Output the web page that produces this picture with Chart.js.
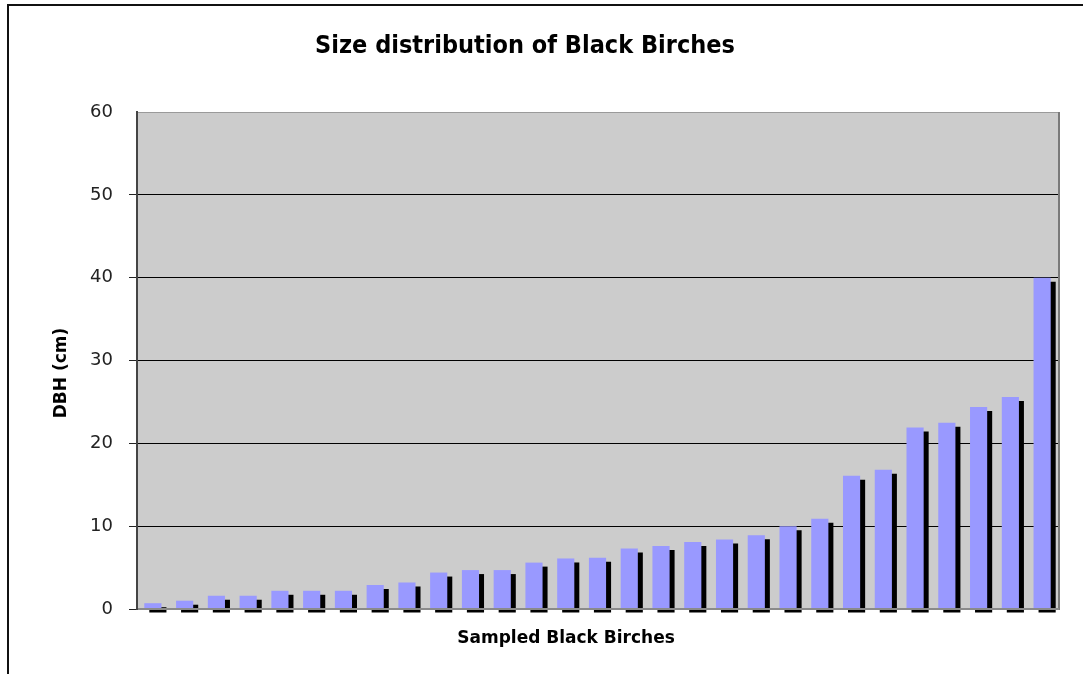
<!DOCTYPE html>
<html>
<head>
<meta charset="utf-8">
<script src="https://cdn.jsdelivr.net/npm/chart.js@4.4.1/dist/chart.umd.min.js"></script>
<style>
  html, body { margin: 0; padding: 0; background: #fff; overflow: hidden; }
  #wrap { position: relative; width: 1083px; height: 674px; }
  #frame { position: absolute; left: 7px; top: 4px; width: 2000px; height: 2000px;
           border-left: 2px solid #111; border-top: 2px solid #111; }
  canvas { position: absolute; left: 0; top: 0; }
</style>
</head>
<body>
<div id="wrap">
  <div id="frame"></div>
  <canvas id="myChart" width="1083" height="674"></canvas>
</div>
<script>
// chart data
const treeLabels = ['1', '2', '3', '4', '5', '6', '7', '8', '9', '10',
  '11', '12', '13', '14', '15', '16', '17', '18', '19', '20',
  '21', '22', '23', '24', '25', '26', '27', '28', '29'];
const dbhValues = [0.7, 1.0, 1.6, 1.6, 2.2, 2.2, 2.2, 2.9, 3.2, 4.4,
  4.7, 4.7, 5.6, 6.1, 6.2, 7.3, 7.6, 8.1, 8.4, 8.9,
  10.0, 10.9, 16.1, 16.8, 21.9, 22.5, 24.4, 25.6, 40.0];
const yTicks = [0, 10, 20, 30, 40, 50, 60];

const chartTitle = 'Size distribution of Black Birches';
const xTitle = 'Sampled Black Birches';
const yTitle = 'DBH (cm)';

const ctx = document.getElementById('myChart');

// gray plot background + frame
const plotBackground = {
  id: 'plotBackground',
  beforeDraw(chart) {
    const { ctx, chartArea: a } = chart;
    ctx.save();
    ctx.fillStyle = '#cccccc';
    ctx.fillRect(a.left, a.top, a.right - a.left, a.bottom - a.top);
    ctx.strokeStyle = '#9a9a9a';
    ctx.lineWidth = 1;
    ctx.strokeRect(a.left + 0.5, a.top + 0.5, a.right - a.left, a.bottom - a.top);
    ctx.strokeStyle = '#7a7a7a';
    ctx.lineWidth = 2;
    ctx.beginPath();
    ctx.moveTo(a.right + 1, a.top);
    ctx.lineTo(a.right + 1, a.bottom + 1);
    ctx.stroke();
    ctx.restore();
  }
};

// black drop shadow behind the bars
const barShadow = {
  id: 'barShadow',
  beforeDatasetsDraw(chart) {
    const c = chart.ctx;
    c.save();
    c.shadowColor = '#000000';
    c.shadowBlur = 0;
    c.shadowOffsetX = 5;
    c.shadowOffsetY = 4;
  },
  afterDatasetsDraw(chart) {
    chart.ctx.restore();
  }
};

// titles, placed like the original (not centered on the plot)
const titles = {
  id: 'titles',
  afterDraw(chart) {
    const { ctx, chartArea: a } = chart;
    ctx.save();
    ctx.fillStyle = '#000';
    ctx.textAlign = 'center';
    ctx.textBaseline = 'middle';

    ctx.font = "bold 25px 'DejaVu Sans Condensed', 'DejaVu Sans', sans-serif";
    ctx.fillText(chartTitle, a.left + 388, 46);

    ctx.font = "bold 17px 'DejaVu Sans', sans-serif";
    ctx.fillText(xTitle, a.left + 429, a.bottom + 30);

    ctx.translate(62, a.top + 261);
    ctx.rotate(-Math.PI / 2);
    ctx.fillText(yTitle, 0, 0);
    ctx.restore();
  }
};

const dataPlot = new Chart(ctx, {
  type: 'bar',
  data: {
    labels: treeLabels,
    datasets: [{
      label: 'DBH',
      data: dbhValues,
      backgroundColor: '#9999ff',
      borderWidth: 0,
      barPercentage: 0.54,
      categoryPercentage: 1.0,
      clip: false
    }]
  },
  options: {
    responsive: false,
    animation: { duration: 0 },
    layout: {
      padding: { left: 0, top: 112, right: 25, bottom: 65 }
    },
    plugins: {
      legend: { display: false },
      title: { display: false },
      tooltip: { enabled: false }
    },
    scales: {
      x: {
        ticks: { display: false },
        grid: { display: false, drawTicks: false },
        border: { display: true, color: '#8a8a8a', width: 2, z: 1 },
        afterFit(scale) { scale.height = 0; }
      },
      y: {
        min: 0,
        max: 60,
        afterBuildTicks(scale) {
          scale.ticks = yTicks.map(v => ({ value: v }));
        },
        afterFit(scale) { scale.width = 137; },
        ticks: {
          padding: 16,
          color: '#222',
          font: { family: "'DejaVu Sans', sans-serif", size: 18 }
        },
        grid: {
          tickLength: 8,
          lineWidth: 1,
          color: (c) => (c.tick && (c.tick.value === 0 || c.tick.value === 60)) ? 'rgba(0,0,0,0)' : '#000',
          tickColor: (c) => (c.tick && c.tick.value === 60) ? 'rgba(0,0,0,0)' : '#222'
        },
        border: { display: true, color: '#444', width: 2, z: 1 }
      }
    }
  },
  plugins: [plotBackground, barShadow, titles]
});
</script>
</body>
</html>
